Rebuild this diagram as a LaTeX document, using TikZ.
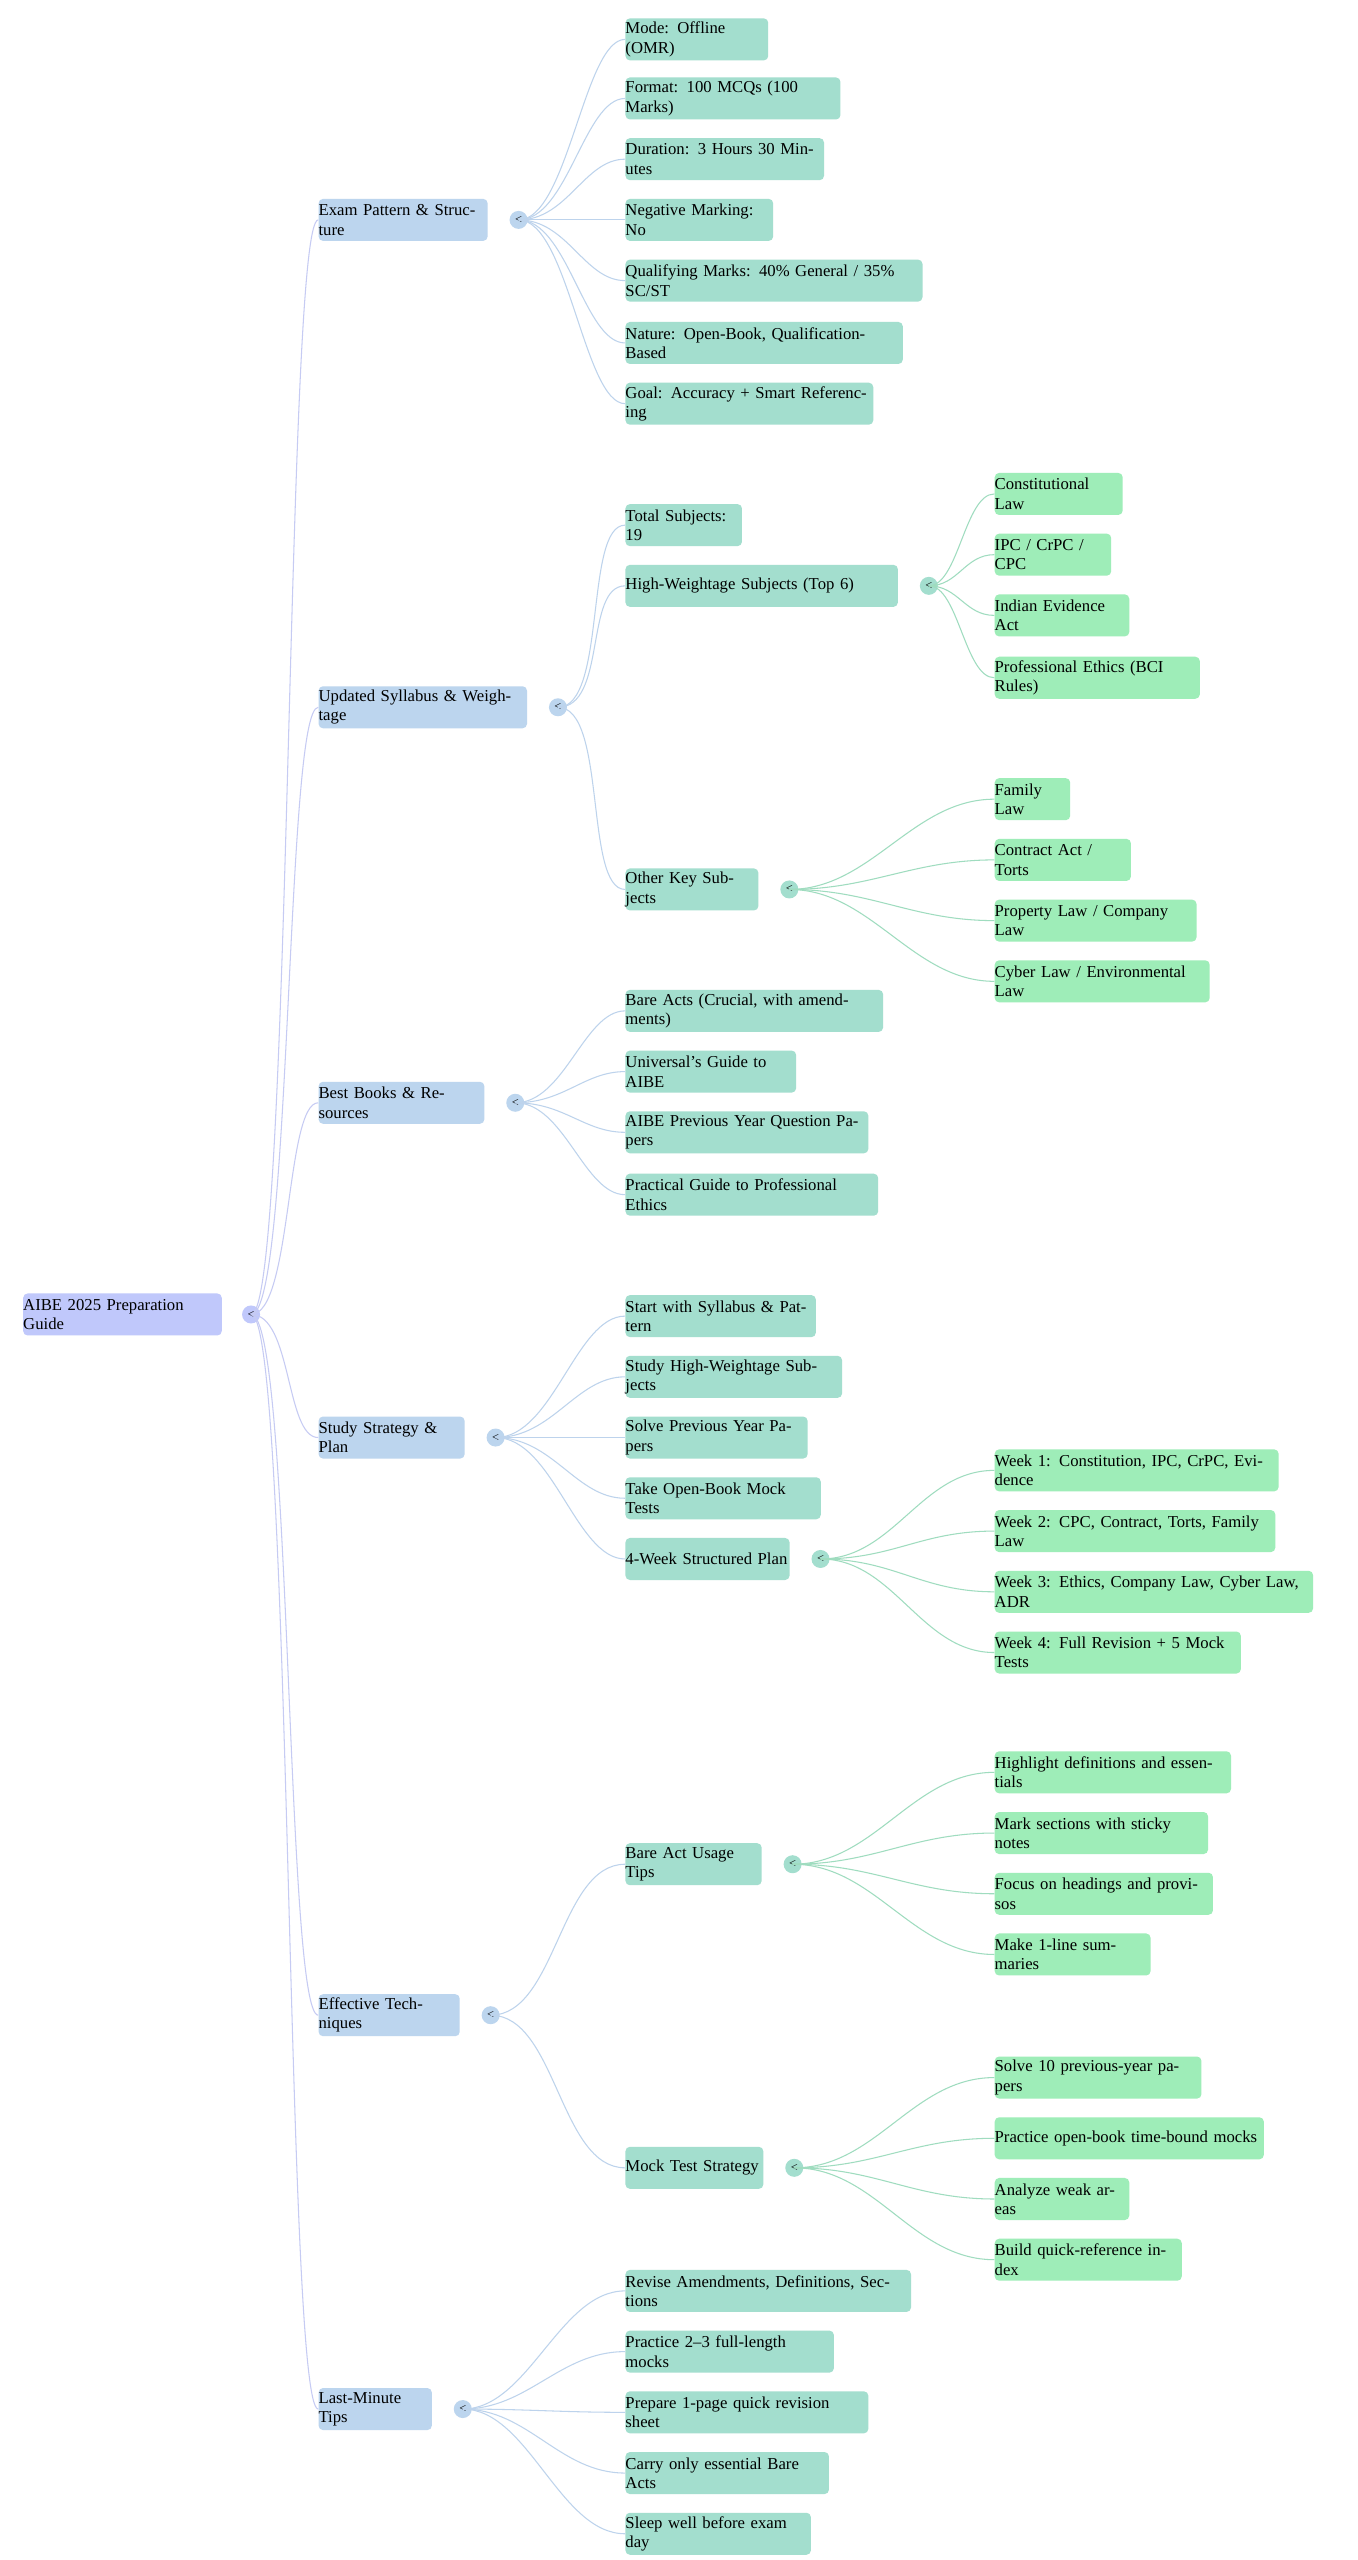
\documentclass[tikz,border=0pt]{standalone}
\usepackage{fontspec}
\setmainfont{Liberation Serif}
\begin{document}
\definecolor{rootc}{HTML}{C0C8FB}
\definecolor{onec}{HTML}{BCD5EE}
\definecolor{twoc}{HTML}{A3DECE}
\definecolor{threec}{HTML}{9EEDB8}
\definecolor{lineA}{HTML}{C6CBF3}
\definecolor{lineB}{HTML}{BDD3EC}
\definecolor{lineC}{HTML}{9FDCBF}
\tikzset{
  box/.style={anchor=west, rounded corners=2.5pt, inner xsep=0pt, inner ysep=0pt,
    minimum height=0.84cm, font=\fontsize{9.5}{11}\selectfont, align=left},
  btn/.style={circle, inner sep=0pt, minimum size=0.36cm, font=\fontsize{7}{7}\selectfont},
  edgeA/.style={lineA, line width=0.6pt},
  edgeB/.style={lineB, line width=0.6pt},
  edgeC/.style={lineC, line width=0.6pt},
}
\newcommand{\mmnode}[6]{% name, colour, x, y, right edge, text
  \pgfmathsetmacro\wid{(#5-#3-16)*0.0328}
  \node[box, fill=#2, text width=\wid cm, xshift=0.26cm] (#1) at (#3,#4) {#6};
}
\begin{tikzpicture}[x=0.0328cm, y=-0.0328cm]
\useasboundingbox[fill=white] (0,0) rectangle (827,1560);

% root
\mmnode{root}{rootc}{6}{801}{143}{AIBE 2025 Preparation Guide}
\node[btn, fill=rootc] (rootb) at (153,801) {<};

% first level
\foreach \n/\y/\r/\t in {exam/134/305/{Exam Pattern \& Structure},
    syl/431/329/{Updated Syllabus \& Weightage},
    book/672/303/{Best Books \& Resources},
    plan/876/291/{Study Strategy \& Plan},
    tech/1228/288/{Effective Techniques},
    last/1468/271/{Last-Minute Tips}} {
  \mmnode{\n}{onec}{186}{\y}{\r}{\t}
  \node[btn, fill=onec] (\n b) at (\r+11,\y) {<};
  \draw[edgeA] (rootb.center) .. controls +(25,0) and +(-20,0) .. (\n.west);
}

% exam pattern
\foreach \n/\y/\r/\t in {1/24/476/{Mode: Offline (OMR)}, 2/60/520/{Format: 100 MCQs (100 Marks)},
    3/97/510/{Duration: 3 Hours 30 Minutes}, 4/134/479/{Negative Marking: No},
    5/171/570/{Qualifying Marks: 40\% General / 35\% SC/ST},
    6/209/558/{Nature: Open-Book, Qualification-Based},
    7/246/540/{Goal: Accuracy + Smart Referencing}} {
  \mmnode{ex\n}{twoc}{373}{\y}{\r}{\t}
  \draw[edgeB] (examb.center) .. controls +(30,0) and +(-25,0) .. (ex\n.west);
}

% syllabus
\foreach \n/\y/\r/\t in {tot/320/460/{Total Subjects: 19}, high/357/555/{High-Weightage Subjects (Top 6)},
    other/542/470/{Other Key Subjects}} {
  \mmnode{\n}{twoc}{373}{\y}{\r}{\t}
  \draw[edgeB] (sylb.center) .. controls +(30,0) and +(-25,0) .. (\n.west);
}
\node[btn, fill=twoc] (highb) at (566,357) {<};
\node[btn, fill=twoc] (otherb) at (481,542) {<};
\foreach \n/\y/\r/\t in {1/301/692/{Constitutional Law}, 2/338/685/{IPC / CrPC / CPC},
    3/375/696/{Indian Evidence Act}, 4/413/739/{Professional Ethics (BCI Rules)}} {
  \mmnode{hi\n}{threec}{598}{\y}{\r}{\t}
  \draw[edgeC] (highb.center) .. controls +(18,0) and +(-18,0) .. (hi\n.west);
}
\foreach \n/\y/\r/\t in {1/487/660/{Family Law}, 2/524/697/{Contract Act / Torts},
    3/561/737/{Property Law / Company Law}, 4/598/745/{Cyber Law / Environmental Law}} {
  \mmnode{ot\n}{threec}{598}{\y}{\r}{\t}
  \draw[edgeC] (otherb.center) .. controls +(50,0) and +(-50,0) .. (ot\n.west);
}

% books
\foreach \n/\y/\r/\t in {1/616/546/{Bare Acts (Crucial, with amendments)}, 2/653/493/{Universal’s Guide to AIBE},
    3/690/537/{AIBE Previous Year Question Papers}, 4/728/543/{Practical Guide to Professional Ethics}} {
  \mmnode{bk\n}{twoc}{373}{\y}{\r}{\t}
  \draw[edgeB] (bookb.center) .. controls +(30,0) and +(-25,0) .. (bk\n.west);
}

% study plan
\foreach \n/\y/\r/\t in {1/802/505/{Start with Syllabus \& Pattern}, 2/839/521/{Study High-Weightage Subjects},
    3/876/500/{Solve Previous Year Papers}, 4/913/508/{Take Open-Book Mock Tests},
    5/950/489/{4-Week Structured Plan}} {
  \mmnode{st\n}{twoc}{373}{\y}{\r}{\t}
  \draw[edgeB] (planb.center) .. controls +(35,0) and +(-30,0) .. (st\n.west);
}
\node[btn, fill=twoc] (st5b) at (500,950) {<};
\foreach \n/\y/\r/\t in {1/896/787/{Week 1: Constitution, IPC, CrPC, Evidence},
    2/933/785/{Week 2: CPC, Contract, Torts, Family Law},
    3/970/808/{Week 3: Ethics, Company Law, Cyber Law, ADR},
    4/1007/764/{Week 4: Full Revision + 5 Mock Tests}} {
  \mmnode{wk\n}{threec}{598}{\y}{\r}{\t}
  \draw[edgeC] (st5b.center) .. controls +(45,0) and +(-45,0) .. (wk\n.west);
}

% techniques
\foreach \n/\y/\r/\t in {bare/1136/472/{Bare Act Usage Tips}, mock/1321/473/{Mock Test Strategy}} {
  \mmnode{\n}{twoc}{373}{\y}{\r}{\t}
  \node[btn, fill=twoc] (\n b) at (\r+11,\y) {<};
  \draw[edgeB] (techb.center) .. controls +(40,0) and +(-40,0) .. (\n.west);
}
\foreach \n/\y/\r/\t in {1/1080/758/{Highlight definitions and essentials}, 2/1117/744/{Mark sections with sticky notes},
    3/1154/747/{Focus on headings and provisos}, 4/1191/709/{Make 1-line summaries}} {
  \mmnode{ba\n}{threec}{598}{\y}{\r}{\t}
  \draw[edgeC] (bareb.center) .. controls +(50,0) and +(-50,0) .. (ba\n.west);
}
\foreach \n/\y/\r/\t in {1/1266/740/{Solve 10 previous-year papers}, 2/1303/778/{Practice open-book time-bound mocks},
    3/1340/696/{Analyze weak areas}, 4/1377/728/{Build quick-reference index}} {
  \mmnode{mo\n}{threec}{598}{\y}{\r}{\t}
  \draw[edgeC] (mockb.center) .. controls +(50,0) and +(-50,0) .. (mo\n.west);
}

% last minute
\foreach \n/\y/\r/\t in {1/1396/563/{Revise Amendments, Definitions, Sections}, 2/1433/516/{Practice 2–3 full-length mocks},
    3/1470/537/{Prepare 1-page quick revision sheet}, 4/1507/513/{Carry only essential Bare Acts},
    5/1544/502/{Sleep well before exam day}} {
  \mmnode{la\n}{twoc}{373}{\y}{\r}{\t}
  \draw[edgeB] (lastb.center) .. controls +(40,0) and +(-40,0) .. (la\n.west);
}
\end{tikzpicture}
\end{document}
